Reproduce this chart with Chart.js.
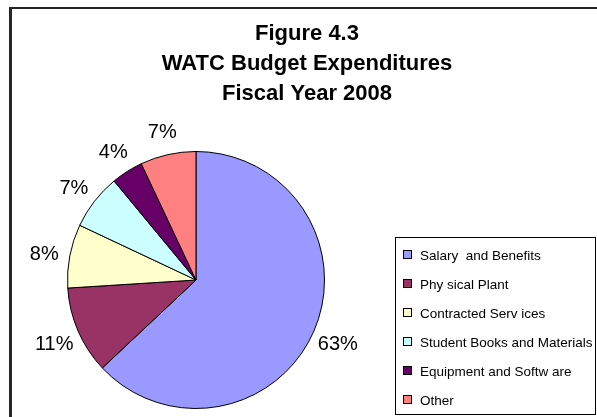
<!DOCTYPE html>
<html>
<head>
<meta charset="utf-8">
<script src="https://cdn.jsdelivr.net/npm/chart.js@4.4.1/dist/chart.umd.min.js"></script>
<style>
  body { margin: 0; background: #fff; }
  #wrap { width: 597px; height: 417px; position: relative; }
</style>
</head>
<body>
<div id="wrap"><canvas id="budget-chart"></canvas></div>
<script>
// data (percent of total)
let categories = [
  "Salary  and Benefits",
  "Phy sical Plant",
  "Contracted Serv ices",
  "Student Books and Materials",
  "Equipment and Softw are",
  "Other",
];
let shares = [63, 11, 8, 7, 4, 7];
let sliceColors = ["#9999FF", "#993366", "#FFFFCC", "#CCFFFF", "#660066", "#FF8080"];
let titleLines = ["Figure 4.3", "WATC Budget Expenditures", "Fiscal Year 2008"];

const FONT = "'Liberation Sans', Arial, sans-serif";

// frame, title, outside % labels and boxed legend
let decorPlugin = {
  id: "decor",
  beforeDraw(chart) {
    let ctx = chart.ctx;
    ctx.save();
    ctx.fillStyle = "#fff";
    ctx.fillRect(0, 0, chart.width, chart.height);
    ctx.fillStyle = "#262626";
    ctx.fillRect(9, 7, 3, chart.height - 7);
    ctx.fillRect(9, 7, chart.width - 9, 2);

    ctx.fillStyle = "#000";
    ctx.font = "bold 22px " + FONT;
    ctx.textAlign = "center";
    ctx.textBaseline = "alphabetic";
    titleLines.forEach(function (t, i) {
      ctx.fillText(t, 307, 40 + i * 30);
    });
    ctx.restore();
  },
  afterDraw(chart) {
    let ctx = chart.ctx;
    let meta = chart.getDatasetMeta(0);
    let total = shares.reduce((a, b) => a + b, 0);
    ctx.save();
    ctx.fillStyle = "#000";
    ctx.font = "20px " + FONT;
    ctx.textAlign = "center";
    ctx.textBaseline = "middle";
    meta.data.forEach(function (arc, i) {
      let mid = (arc.startAngle + arc.endAngle) / 2;
      let d = arc.outerRadius + 26;
      let x = arc.x + Math.cos(mid) * d;
      let y = arc.y + Math.sin(mid) * d + 3;
      ctx.fillText(Math.round((shares[i] / total) * 100) + "%", x, y);
    });

    // legend
    ctx.strokeStyle = "#000";
    ctx.lineWidth = 1;
    ctx.strokeRect(395.5, 237.5, 200, 177);
    ctx.font = "13.5px " + FONT;
    ctx.textAlign = "left";
    chart.data.labels.forEach(function (lab, i) {
      let cy = 255 + i * 29;
      ctx.fillStyle = sliceColors[i];
      ctx.fillRect(403, cy - 5, 9, 9);
      ctx.strokeRect(403.5, cy - 4.5, 8, 8);
      ctx.fillStyle = "#000";
      ctx.fillText(lab, 420, cy + 1);
    });
    ctx.restore();
  },
};

let ctx = document.getElementById("budget-chart").getContext("2d");
let chart = new Chart(ctx, {
  type: "pie",
  data: {
    labels: categories,
    datasets: [
      {
        data: shares,
        backgroundColor: sliceColors,
        borderColor: "#000",
        borderWidth: 1,
      },
    ],
  },
  options: {
    responsive: true,
    maintainAspectRatio: false,
    animation: false,
    layout: { padding: { left: 67, top: 151, right: 272, bottom: 8 } },
    plugins: {
      legend: { display: false },
      title: { display: false },
      tooltip: { enabled: false },
    },
  },
  plugins: [decorPlugin],
});
</script>
</body>
</html>
